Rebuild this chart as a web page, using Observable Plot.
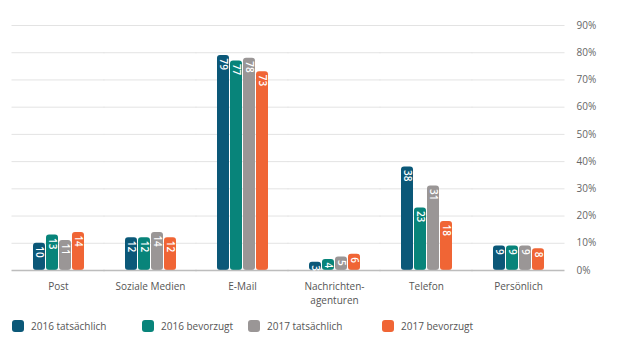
<!DOCTYPE html>
<html><head><meta charset="utf-8">
<script src="https://cdn.jsdelivr.net/npm/d3@7"></script>
<script src="https://cdn.jsdelivr.net/npm/@observablehq/plot@0.6"></script>
<style>
body{margin:0;background:#fff;font-family:"Open Sans",sans-serif;}
#legend{display:flex;height:36px;align-items:flex-start;padding-top:7px;box-sizing:border-box;font-size:10px;color:#555;}
.item{display:flex;align-items:center;}
.sw{width:12px;height:12px;border-radius:3px;margin-right:7px;}
</style></head>
<body><div id="chart"></div><div id="legend"></div>
<script>
const categories = ["Post","Soziale Medien","E-Mail","Nachrichten-\nagenturen","Telefon","Persönlich"];
const series = ["2016 tatsächlich","2016 bevorzugt","2017 tatsächlich","2017 bevorzugt"];
const v2016a = [10,12,79,3,38,9];
const v2016b = [13,12,77,4,23,9];
const v2017a = [11,14,78,5,31,9];
const v2017b = [14,12,73,6,18,8];
const yTicks = [0,10,20,30,40,50,60,70,80,90];
const colors = ["#0b5878","#08847a","#9a9696","#f06535"];

const all = [v2016a,v2016b,v2017a,v2017b];
const data = [];
categories.forEach((c,i)=>series.forEach((s,j)=>data.push({cat:c,series:s,value:all[j][i]})));

const ext = -20.5;
const chart = Plot.plot({
  width:620, height:312,
  marginTop:25, marginBottom:42, marginLeft:10, marginRight:55,
  style:{fontFamily:"Open Sans, sans-serif", fontSize:"10px", color:"#555"},
  fx:{domain:categories, paddingInner:0.44, paddingOuter:0.23, label:null},
  x:{domain:series, axis:null, paddingInner:0.1, paddingOuter:0},
  y:{domain:[0,90]},
  color:{domain:series, range:colors},
  marks:[
    Plot.ruleY(yTicks.filter(d=>d>0), {stroke:"#e3e3e3", strokeWidth:1, insetLeft:ext, insetRight:ext}),
    Plot.axisY({anchor:"right", ticks:yTicks, tickSize:0, tickPadding:32, tickFormat:d=>d+"%", fill:"#666", fontSize:10, label:null}),
    Plot.axisFx({anchor:"bottom", tickSize:0, tickPadding:10, label:null, fill:"#555", fontSize:10, lineHeight:1.35}),
    Plot.barY(data, {fx:"cat", x:"series", y:"value", fill:"series", rx:3}),
    Plot.ruleY([0], {stroke:"#bdbdbd", strokeWidth:1.5, insetLeft:ext, insetRight:ext}),
    Plot.text(data, {fx:"cat", x:"series", y:"value", text:d=>String(d.value), rotate:90, textAnchor:"start", dy:3, fill:"white", fontWeight:"600", fontSize:10})
  ]
});
document.getElementById("chart").appendChild(chart);

const lg = document.getElementById("legend");
const widths = [130,106,134,120];
series.forEach((s,i)=>{
  const it = document.createElement("div");
  it.className="item";
  it.style.width = widths[i]+"px";
  if(i===0) it.style.marginLeft="12px";
  it.innerHTML = `<span class="sw" style="background:${colors[i]}"></span><span>${s}</span>`;
  lg.appendChild(it);
});
</script></body></html>
